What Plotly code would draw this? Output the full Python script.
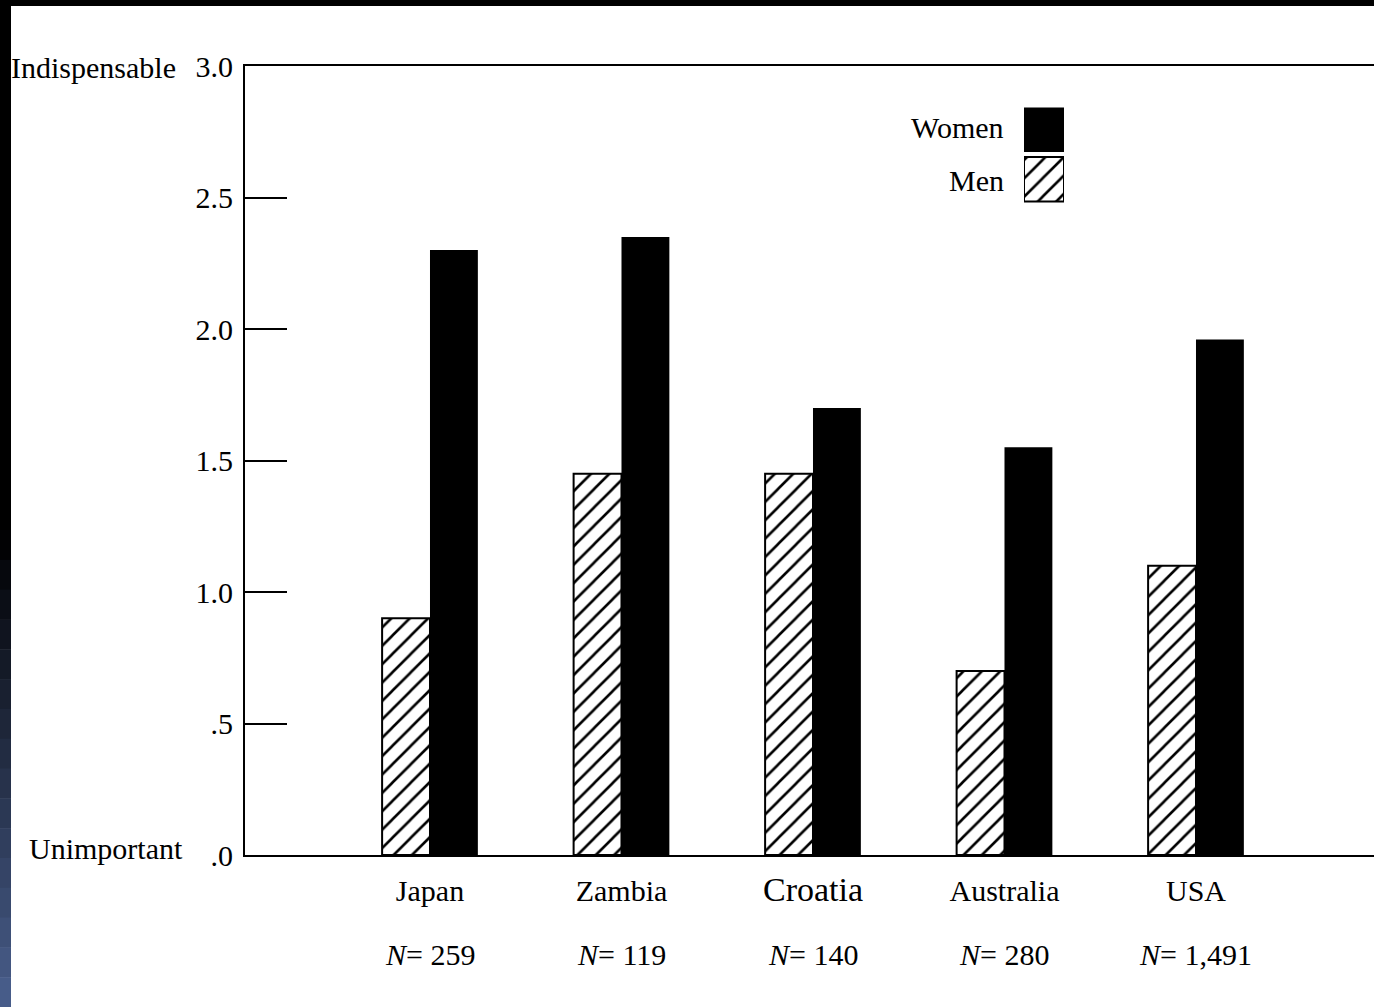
import plotly.graph_objects as go

# ---- data ----
countries = ["Japan", "Zambia", "Croatia", "Australia", "USA"]
n_labels = ["259", "119", "140", "280", "1,491"]
men = [0.90, 1.45, 1.45, 0.70, 1.10]
women = [2.30, 2.35, 1.70, 1.55, 1.96]
y_tickvals = [0.0, 0.5, 1.0, 1.5, 2.0, 2.5, 3.0]
y_ticktext = [".0", ".5", "1.0", "1.5", "2.0", "2.5", "3.0"]
legend_names = ["Men", "Women"]

W, H = 1374, 1007
L, R, T, B = 245, 0, 66, 152
PW, PH = W - L - R, H - T - B
FONT = "Liberation Serif, Times New Roman, serif"


def px_x(px):
    return (px - L) / PW


def px_y(py):
    return (H - B - py) / PH


HATCH = dict(shape="/", fgcolor="black", fgopacity=1, bgcolor="white",
             fillmode="replace", size=13, solidity=0.2)

fig = go.Figure()
fig.add_trace(go.Bar(
    x=countries, y=men, name="Men",
    marker=dict(color="white", line=dict(color="black", width=2),
                pattern=HATCH),
    showlegend=False))
fig.add_trace(go.Bar(
    x=countries, y=women, name="Women",
    marker=dict(color="black", line=dict(color="black", width=0)),
    showlegend=False))

# legend keys drawn as a tiny bar chart in its own axes
fig.add_trace(go.Bar(
    y=[legend_names[0]], x=[1], orientation="h", width=0.9, offset=-0.45,
    xaxis="x2", yaxis="y2", showlegend=False,
    marker=dict(color="white", line=dict(color="black", width=2),
                pattern=HATCH)))
fig.add_trace(go.Bar(
    y=[legend_names[1]], x=[1], orientation="h", width=0.9, offset=-0.45,
    xaxis="x2", yaxis="y2", showlegend=False,
    marker=dict(color="black", line=dict(color="black", width=0))))

ticktext = [
    ('<span style="font-size:34px">%s</span>' % c) if c == "Croatia" else c
    for c in countries
]

fig.update_layout(
    width=W, height=H,
    margin=dict(l=L, r=R, t=T, b=B),
    paper_bgcolor="white", plot_bgcolor="white",
    font=dict(family=FONT, size=30, color="black"),
    barmode="group", bargap=0.5, bargroupgap=0,
    xaxis=dict(
        range=[-0.966, -0.966 + PW / 191.5],
        tickvals=countries, ticktext=ticktext,
        showline=True, linecolor="black", linewidth=2, mirror=True,
        ticks="", ticklabelstandoff=8, showgrid=False, zeroline=False,
        tickfont=dict(size=30),
    ),
    yaxis=dict(
        range=[0, 3], tickvals=y_tickvals, ticktext=y_ticktext,
        showline=True, linecolor="black", linewidth=2, mirror=False,
        ticks="inside", ticklen=42, tickwidth=2, tickcolor="black",
        ticklabelstandoff=4, showgrid=False, zeroline=False,
        tickfont=dict(size=30),
    ),
    xaxis2=dict(domain=[px_x(1024), px_x(1064)], range=[0, 1],
                anchor="y2", visible=False, fixedrange=True),
    yaxis2=dict(domain=[px_y(204), px_y(105)], anchor="x2",
                visible=False, type="category",
                categoryorder="array", categoryarray=legend_names,
                fixedrange=True),
)

# N = ... labels under each country
for c, n in zip(countries, n_labels):
    fig.add_annotation(x=c, xref="x", y=px_y(955), yref="paper",
                       text="<i>N</i>= %s" % n, showarrow=False,
                       xanchor="center", yanchor="middle",
                       font=dict(size=30, family=FONT))

# axis end labels
fig.add_annotation(x=px_x(9), y=px_y(68), xref="paper", yref="paper",
                   text="Indispensable", showarrow=False,
                   xanchor="left", yanchor="middle", font=dict(size=30))
fig.add_annotation(x=px_x(27), y=px_y(848), xref="paper", yref="paper",
                   text="Unimportant", showarrow=False,
                   xanchor="left", yanchor="middle", font=dict(size=30))

# legend texts
for name, py in [("Women", 127), ("Men", 181)]:
    fig.add_annotation(x=px_x(1006), y=px_y(py), xref="paper", yref="paper",
                       text=name, showarrow=False,
                       xanchor="right", yanchor="middle", font=dict(size=30))

# frame: black top strip, left strip fading to blue
fig.add_shape(type="rect", xref="paper", yref="paper",
              x0=px_x(0), x1=px_x(W), y0=px_y(6), y1=px_y(0),
              fillcolor="black", line=dict(width=0), layer="above")
fig.add_shape(type="rect", xref="paper", yref="paper",
              x0=px_x(0), x1=px_x(11), y0=px_y(530), y1=px_y(0),
              fillcolor="black", line=dict(width=0), layer="above")
steps = 16
y0p = 530
for i in range(steps):
    a = y0p + (H - y0p) * i / steps
    b = y0p + (H - y0p) * (i + 1) / steps
    t = (i + 0.5) / steps
    r, g, bl = int(0x4a * t), int(0x5f * t), int(0x8e * t)
    fig.add_shape(type="rect", xref="paper", yref="paper",
                  x0=px_x(0), x1=px_x(11), y0=px_y(b + 0.5), y1=px_y(a),
                  fillcolor="rgb(%d,%d,%d)" % (r, g, bl),
                  line=dict(width=0), layer="above")

fig.write_html(
    "out.html",
    config={"displayModeBar": False},
    post_script="document.body.style.margin='0';document.body.style.overflow='hidden';",
)
